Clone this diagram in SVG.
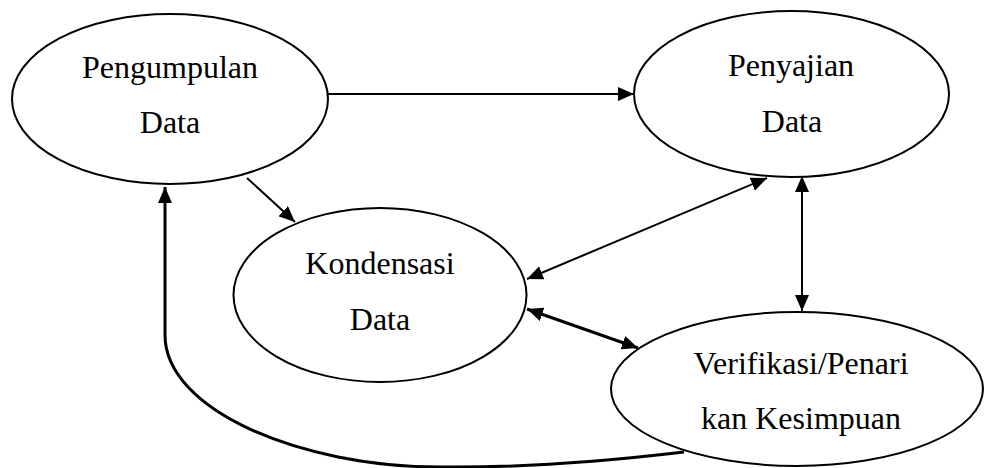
<svg xmlns="http://www.w3.org/2000/svg" width="984" height="468" viewBox="0 0 984 468">
<style>
.node ellipse{fill:#fff;stroke:#000;stroke-width:2}
.node text{font-family:'Liberation Serif','Times New Roman',Tinos,'DejaVu Serif',serif;font-size:32px;fill:#000;text-anchor:middle}
.conn{fill:none;stroke:#000;stroke-width:2}
.thick{stroke-width:3}
</style>
<defs>
<marker id="arr" viewBox="0 0 16 14" refX="16" refY="7" markerWidth="16" markerHeight="14" markerUnits="userSpaceOnUse" orient="auto-start-reverse">
<path d="M0,0 L16,7 L0,14 z" fill="#000"/>
</marker>
</defs>
<rect width="984" height="468" fill="#fff"/>
<g id="connectors">
<line class="conn" x1="328" y1="94" x2="634" y2="94" marker-end="url(#arr)"/>
<line class="conn" x1="247" y1="178" x2="295" y2="222" marker-end="url(#arr)"/>
<line class="conn" x1="527" y1="279" x2="767" y2="178" marker-start="url(#arr)" marker-end="url(#arr)"/>
<line class="conn" x1="802" y1="176" x2="802" y2="311" marker-start="url(#arr)" marker-end="url(#arr)"/>
<line class="conn thick" x1="527" y1="309" x2="638" y2="348" marker-start="url(#arr)" marker-end="url(#arr)"/>
<path class="conn thick" d="M684,452 C600,462 520,468 440,467 C300,467 165,410 165,335 L165,187" marker-end="url(#arr)"/>
</g>
<g id="pengumpulan" class="node">
<ellipse cx="170" cy="99" rx="158" ry="85"/>
<text x="170" y="78" font-family="Liberation Serif, serif">Pengumpulan</text>
<text x="170" y="133" font-family="Liberation Serif, serif">Data</text>
</g>
<g id="penyajian" class="node">
<ellipse cx="791.5" cy="94" rx="157.5" ry="83"/>
<text x="791" y="76" font-family="Liberation Serif, serif">Penyajian</text>
<text x="792" y="132" font-family="Liberation Serif, serif">Data</text>
</g>
<g id="kondensasi" class="node">
<ellipse cx="380" cy="295" rx="146.5" ry="87"/>
<text x="380" y="274" font-family="Liberation Serif, serif">Kondensasi</text>
<text x="380" y="330" font-family="Liberation Serif, serif">Data</text>
</g>
<g id="verifikasi" class="node">
<ellipse cx="797" cy="389" rx="186" ry="77"/>
<text x="801" y="374" font-family="Liberation Serif, serif">Verifikasi/Penari</text>
<text x="801" y="429" font-family="Liberation Serif, serif">kan Kesimpuan</text>
</g>
</svg>
